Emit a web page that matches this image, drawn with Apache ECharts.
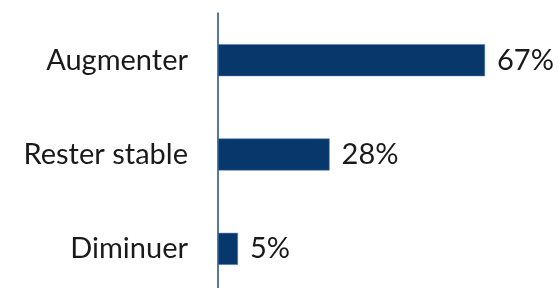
<!DOCTYPE html>
<html>
<head>
<meta charset="utf-8">
<script src="https://cdn.jsdelivr.net/npm/echarts@6/dist/echarts.min.js"></script>
<style>
  html, body { margin: 0; padding: 0; background: #fff; }
  #chart { width: 559px; height: 288px; }
</style>
</head>
<body>
<div id="chart"></div>
<script>
// catégories (de bas en haut)
const categories = ['Diminuer', 'Rester stable', 'Augmenter']
// valeurs en %
const values = [5, 28, 67]

const myChart = echarts.init(document.querySelector('#chart'))
const option = {
  animation: false,
  grid: {
    left: 218,
    top: 13,
    width: 267,
    height: 283,
    outerBoundsMode: 'none'
  },
  xAxis: {
    type: 'value',
    min: 0,
    max: 67,
    show: false
  },
  yAxis: {
    type: 'category',
    data: categories,
    axisLine: {
      lineStyle: { color: '#1f4e79', width: 1.5 }
    },
    axisTick: { show: false },
    axisLabel: {
      color: '#1a1a1a',
      fontSize: 29,
      fontFamily: 'Lato, "Open Sans", sans-serif',
      margin: 30
    }
  },
  series: [
    {
      type: 'bar',
      data: values,
      barWidth: 32,
      itemStyle: {
        color: '#08386b',
        borderColor: '#4f7db0',
        borderWidth: 0.5
      },
      label: {
        show: true,
        position: 'right',
        distance: 12,
        formatter: '{c}%',
        color: '#1a1a1a',
        fontSize: 29,
        fontFamily: 'Lato, "Open Sans", sans-serif'
      }
    }
  ]
}
myChart.setOption(option)
</script>
</body>
</html>
